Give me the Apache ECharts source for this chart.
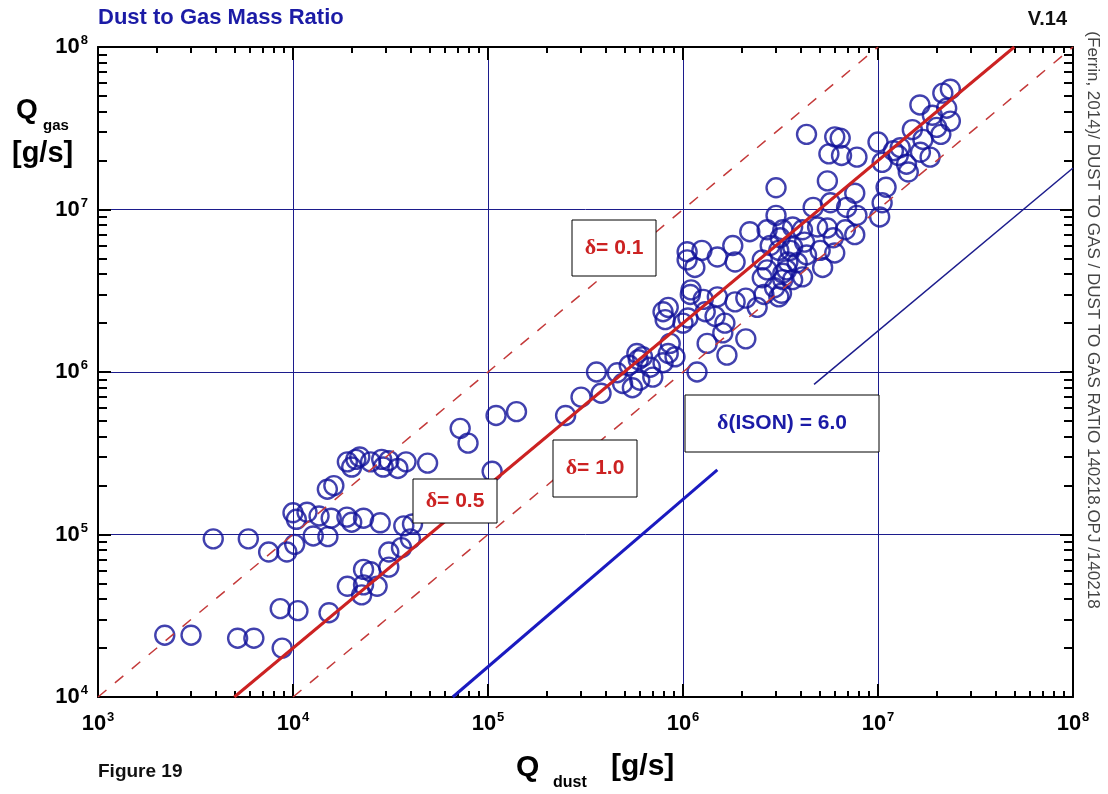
<!DOCTYPE html>
<html>
<head>
<meta charset="utf-8">
<title>Dust to Gas Mass Ratio</title>
<script src="https://cdn.jsdelivr.net/npm/echarts@6/dist/echarts.min.js"></script>
<style>
  html, body { margin: 0; padding: 0; background: #fff; }
  #chart { width: 1108px; height: 794px; }
</style>
</head>
<body>
<div id="chart"></div>
<script>
// Q_dust [g/s] and Q_gas [g/s] for each comet
const qDust = [
  2.2e3, 3.0e3, 5.2e3, 6.3e3, 8.8e3, 8.6e3, 1.06e4, 1.53e4, 3.9e3, 5.9e3,
  7.5e3, 9.3e3, 1.02e4, 1.0e4, 1.04e4, 1.18e4, 1.27e4, 1.36e4, 1.51e4, 1.57e4,
  1.89e4, 2.0e4, 2.3e4, 2.8e4, 3.7e4, 4.1e4, 4.0e4, 3.6e4, 3.1e4, 3.1e4,
  2.3e4, 2.5e4, 1.9e4, 2.25e4, 2.3e4, 2.7e4, 1.5e4, 1.62e4, 1.9e4, 2.1e4,
  2.2e4, 2.0e4, 2.5e4, 2.85e4, 2.9e4, 3.1e4, 3.45e4, 3.8e4, 4.9e4, 7.2e4,
  7.9e4, 1.1e5, 1.4e5, 1.05e5, 2.5e5, 3.0e5, 3.6e5, 3.8e5, 4.6e5, 4.9e5,
  5.5e5, 5.3e5, 5.8e5, 6.2e5, 6.0e5, 6.8e5, 7.0e5, 7.9e5, 8.4e5, 8.6e5,
  9.1e5, 1.18e6, 8.1e5, 7.9e5, 8.4e5, 1.0e6, 1.06e6, 1.09e6, 1.1e6, 1.27e6,
  1.3e6, 1.46e6, 1.5e6, 1.64e6, 1.6e6, 1.33e6, 1.68e6, 2.1e6, 1.85e6, 2.1e6,
  2.4e6, 2.6e6, 3.1e6, 1.05e6, 1.05e6, 1.15e6, 1.25e6, 1.5e6, 1.8e6, 1.85e6,
  2.2e6, 2.7e6, 3.0e6, 3.0e6, 2.8e6, 3.15e6, 3.25e6, 3.65e6, 4.1e6, 4.2e6,
  4.9e6, 5.5e6, 5.9e6, 6.0e6, 5.2e6, 4.1e6, 3.85e6, 3.4e6, 3.1e6, 2.7e6,
  2.55e6, 2.95e6, 3.25e6, 3.65e6, 4.65e6, 5.7e6, 6.9e6, 7.6e6, 7.8e6, 6.8e6,
  7.6e6, 5.5e6, 1.1e7, 1.05e7, 1.02e7, 5.6e6, 6.5e6, 7.8e6, 1.05e7, 1.27e7,
  1.4e7, 1.43e7, 1.85e7, 4.3e6, 6.0e6, 6.4e6, 1.0e7, 2.35e7, 2.15e7, 1.64e7,
  2.25e7, 1.9e7, 2.35e7, 1.5e7, 2.0e7, 2.1e7, 1.7e7, 1.3e7, 1.65e7, 1.2e7,
  2.55e6, 3.45e6, 4.3e6, 5.05e6, 3.55e6, 3.65e6, 3.25e6, 3.2e6, 5.9e5
];
const qGas = [
  2.4e4, 2.4e4, 2.3e4, 2.3e4, 2.0e4, 3.5e4, 3.4e4, 3.3e4, 9.4e4, 9.4e4,
  7.8e4, 7.8e4, 8.7e4, 1.36e5, 1.24e5, 1.37e5, 9.8e4, 1.3e5, 9.7e4, 1.26e5,
  1.28e5, 1.19e5, 1.26e5, 1.18e5, 1.13e5, 1.16e5, 9.4e4, 8.3e4, 7.8e4, 6.3e4,
  6.1e4, 5.9e4, 4.8e4, 4.25e4, 4.9e4, 4.8e4, 1.9e5, 2.0e5, 2.8e5, 2.9e5,
  3.0e5, 2.6e5, 2.8e5, 2.9e5, 2.6e5, 2.85e5, 2.55e5, 2.8e5, 2.75e5, 4.5e5,
  3.65e5, 5.4e5, 5.7e5, 2.45e5, 5.4e5, 7.0e5, 1.0e6, 7.4e5, 9.9e5, 8.5e5,
  8.0e5, 1.1e6, 1.3e6, 1.24e6, 8.9e5, 1.07e6, 9.3e5, 1.14e6, 1.3e6, 1.5e6,
  1.24e6, 1.0e6, 2.1e6, 2.35e6, 2.5e6, 2.0e6, 2.15e6, 3.0e6, 3.2e6, 2.8e6,
  2.35e6, 2.2e6, 2.9e6, 2.0e6, 1.74e6, 1.5e6, 1.27e6, 1.6e6, 2.7e6, 2.85e6,
  2.5e6, 3.0e6, 2.9e6, 5.5e6, 4.9e6, 4.4e6, 5.6e6, 5.1e6, 6.0e6, 4.75e6,
  7.3e6, 7.5e6, 9.2e6, 1.36e7, 6.0e6, 6.7e6, 7.5e6, 7.8e6, 7.5e6, 6.3e6,
  7.8e6, 7.7e6, 6.7e6, 5.4e6, 4.4e6, 3.85e6, 4.7e6, 4.25e6, 5.6e6, 4.25e6,
  3.8e6, 3.3e6, 3.7e6, 3.7e6, 1.03e7, 1.1e7, 1.03e7, 1.26e7, 9.2e6, 7.5e6,
  7.0e6, 1.5e7, 1.37e7, 1.1e7, 9.0e6, 2.2e7, 2.15e7, 2.1e7, 1.95e7, 2.15e7,
  1.9e7, 1.7e7, 2.1e7, 2.9e7, 2.8e7, 2.75e7, 2.6e7, 5.5e7, 5.2e7, 4.4e7,
  4.2e7, 3.8e7, 3.5e7, 3.1e7, 3.2e7, 2.9e7, 2.7e7, 2.4e7, 2.25e7, 2.3e7,
  4.9e6, 4.75e6, 5.25e6, 5.6e6, 5.6e6, 5.9e6, 4.05e6, 3.05e6, 1.19e6
];

// reference lines of constant dust/gas ratio (endpoints as [Q_dust, Q_gas])
const delta01 = [[1e3, 1e4], [1e7, 1e8]];
const delta05 = [[5e3, 1e4], [5e7, 1e8]];
const delta10 = [[1e4, 1e4], [1e8, 1e8]];
const isonThick = [[6.6e4, 1e4], [1.5e6, 2.5e5]];
const isonThin = [[4.7e6, 8.4e5], [1e8, 1.8e7]];

// minor tick values (2..9 x 10^n)
const minorX = [];
const minorY = [];
for (let e = 3; e < 8; e++) {
  for (let m = 2; m <= 9; m++) {
    minorX.push(m * Math.pow(10, e));
    if (e >= 4) minorY.push(m * Math.pow(10, e));
  }
}

const NAVY = "#1c1c8c";
const FONT = "Arial, 'Liberation Sans', sans-serif";

const expLabel = (v) => "{b|10}{s|" + Math.round(Math.log10(v)) + "}";
const labelRich = {
  b: { fontSize: 22, fontWeight: "bold", fontFamily: FONT, color: "#000", lineHeight: 26 },
  s: { fontSize: 13, fontWeight: "bold", fontFamily: FONT, color: "#000", lineHeight: 13, verticalAlign: "top", padding: [0, 0, 0, 1] },
};

const baseAxis = (pos, extra) =>
  Object.assign(
    {
      type: "log",
      logBase: 10,
      position: pos,
      axisLine: { show: true, onZero: false, lineStyle: { color: "#000", width: 2 } },
      splitLine: { show: false },
      axisLabel: { show: false },
      axisTick: { show: false },
    },
    extra,
  );

const xRange = { min: 1e3, max: 1e8 };
const yRange = { min: 1e4, max: 1e8 };

const chart = echarts.init(document.getElementById("chart"));

const deltaBox = (x, y, w, h, d, t, color) => [
  {
    type: "rect",
    shape: { x: x, y: y, width: w, height: h },
    style: { fill: "#fff", stroke: "#000", lineWidth: 1 },
    z: 100,
  },
  {
    type: "text",
    x: x + w / 2,
    y: y + h / 2,
    z: 101,
    style: {
      text: "{d|" + d + "}{t|" + t + "}",
      align: "center",
      verticalAlign: "middle",
      rich: {
        d: { fontSize: 22, fontWeight: "bold", fontFamily: "'Liberation Serif', serif", fill: color },
        t: { fontSize: 21, fontWeight: "bold", fontFamily: FONT, fill: color },
      },
    },
  },
];

const option = {
  animation: false,
  backgroundColor: "#fff",
  grid: { left: 98, right: 35, top: 47, bottom: 97 },
  xAxis: [
    baseAxis("bottom", Object.assign({
      interval: 1,
      axisLabel: { show: true, margin: 14, formatter: expLabel, rich: labelRich, showMinLabel: true, showMaxLabel: true },
      axisTick: { show: true, inside: true, length: 13, lineStyle: { color: "#000", width: 2 } },
      splitLine: { show: true, lineStyle: { color: NAVY, width: 1 } },
    }, xRange)),
    baseAxis("bottom", Object.assign({
      axisTick: { show: true, inside: true, length: 6, customValues: minorX, lineStyle: { color: "#000", width: 2 } },
      axisLine: { show: false },
    }, xRange)),
    baseAxis("top", Object.assign({
      interval: 1,
      axisTick: { show: true, inside: true, length: 13, lineStyle: { color: "#000", width: 2 } },
    }, xRange)),
    baseAxis("top", Object.assign({
      axisTick: { show: true, inside: true, length: 6, customValues: minorX, lineStyle: { color: "#000", width: 2 } },
      axisLine: { show: false },
    }, xRange)),
  ],
  yAxis: [
    baseAxis("left", Object.assign({
      interval: 1,
      axisLabel: { show: true, margin: 10, formatter: expLabel, rich: labelRich, showMinLabel: true, showMaxLabel: true },
      axisTick: { show: true, inside: true, length: 13, lineStyle: { color: "#000", width: 2 } },
      splitLine: { show: true, lineStyle: { color: NAVY, width: 1 } },
    }, yRange)),
    baseAxis("left", Object.assign({
      axisTick: { show: true, inside: true, length: 9, customValues: minorY, lineStyle: { color: "#000", width: 2 } },
      axisLine: { show: false },
    }, yRange)),
    baseAxis("right", Object.assign({
      interval: 1,
      axisTick: { show: true, inside: true, length: 13, lineStyle: { color: "#000", width: 2 } },
    }, yRange)),
    baseAxis("right", Object.assign({
      axisTick: { show: true, inside: true, length: 9, customValues: minorY, lineStyle: { color: "#000", width: 2 } },
      axisLine: { show: false },
    }, yRange)),
  ],
  series: [
    {
      name: "comets",
      type: "scatter",
      z: 2,
      symbol: "circle",
      symbolSize: 19,
      data: qDust.map((d, i) => [d, qGas[i]]),
      itemStyle: { color: "rgba(0,0,0,0)", borderColor: "#12129a", borderWidth: 2.4 },
    },
    {
      name: "delta 0.1",
      type: "line",
      z: 4,
      showSymbol: false,
      data: delta01,
      lineStyle: { color: "#c43a3a", width: 1.5, type: [11, 11] },
    },
    {
      name: "delta 1.0",
      type: "line",
      z: 4,
      showSymbol: false,
      data: delta10,
      lineStyle: { color: "#c43a3a", width: 1.5, type: [11, 11] },
    },
    {
      name: "delta 0.5",
      type: "line",
      z: 5,
      showSymbol: false,
      data: delta05,
      lineStyle: { color: "#cc2222", width: 3 },
    },
    {
      name: "ISON thick",
      type: "line",
      z: 5,
      showSymbol: false,
      data: isonThick,
      lineStyle: { color: "#1a1ac0", width: 3 },
    },
    {
      name: "ISON thin",
      type: "line",
      z: 5,
      showSymbol: false,
      data: isonThin,
      lineStyle: { color: "#1c1c8c", width: 1.5 },
    },
  ],
  graphic: [
    {
      type: "text", x: 98, y: 18,
      style: { text: "Dust to Gas Mass Ratio", fontSize: 22, fontWeight: "bold", fontFamily: FONT, fill: "#1b1ba6", verticalAlign: "middle" },
    },
    {
      type: "text", x: 1067, y: 19,
      style: { text: "V.14", fontSize: 20, fontWeight: "bold", fontFamily: FONT, fill: "#111", align: "right", verticalAlign: "middle" },
    },
    {
      type: "text", x: 98, y: 772,
      style: { text: "Figure 19", fontSize: 19, fontWeight: "bold", fontFamily: FONT, fill: "#111", verticalAlign: "middle" },
    },
    // y axis title
    {
      type: "text", x: 16, y: 110,
      style: { text: "Q", fontSize: 28, fontWeight: "bold", fontFamily: FONT, fill: "#000", verticalAlign: "middle" },
    },
    {
      type: "text", x: 43, y: 126,
      style: { text: "gas", fontSize: 15, fontWeight: "bold", fontFamily: FONT, fill: "#000", verticalAlign: "middle" },
    },
    {
      type: "text", x: 12, y: 154,
      style: { text: "[g/s]", fontSize: 29, fontWeight: "bold", fontFamily: FONT, fill: "#000", verticalAlign: "middle" },
    },
    // x axis title
    {
      type: "text", x: 516, y: 768,
      style: { text: "Q", fontSize: 30, fontWeight: "bold", fontFamily: FONT, fill: "#000", verticalAlign: "middle" },
    },
    {
      type: "text", x: 553, y: 783,
      style: { text: "dust", fontSize: 16, fontWeight: "bold", fontFamily: FONT, fill: "#000", verticalAlign: "middle" },
    },
    {
      type: "text", x: 611, y: 767,
      style: { text: "[g/s]", fontSize: 30, fontWeight: "bold", fontFamily: FONT, fill: "#000", verticalAlign: "middle" },
    },
    // file stamp on the right margin
    {
      type: "text", x: 1093, y: 320, rotation: -Math.PI / 2,
      style: {
        text: "(Ferrin, 2014)/ DUST TO GAS / DUST TO GAS RATIO 140218.OPJ /140218",
        fontSize: 17, fontFamily: FONT, fill: "#444", align: "center", verticalAlign: "middle",
      },
    },
    ...deltaBox(572, 220, 84, 56, "δ", "= 0.1", "#cc2222"),
    ...deltaBox(553, 440, 84, 57, "δ", "= 1.0", "#cc2222"),
    ...deltaBox(413, 479, 84, 44, "δ", "= 0.5", "#cc2222"),
    ...deltaBox(685, 395, 194, 57, "δ", "(ISON) = 6.0", "#1b1ba6"),
  ],
};

chart.setOption(option);
</script>
</body>
</html>
